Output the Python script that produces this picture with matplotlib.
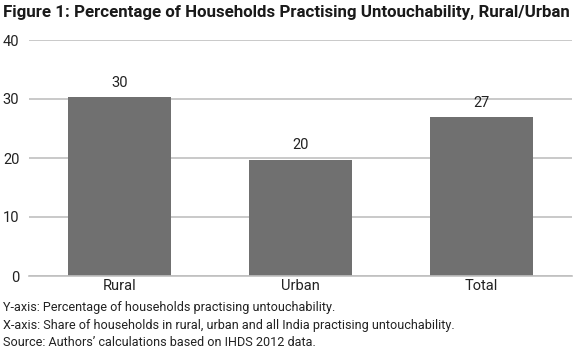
import matplotlib.pyplot as plt

categories = ["Rural", "Urban", "Total"]
values = [30.3, 19.7, 26.9]
value_labels = ["30", "20", "27"]
y_ticks = [0, 10, 20, 30, 40]

title = "Figure 1: Percentage of Households Practising Untouchability, Rural/Urban"
notes = [
    "Y-axis: Percentage of households practising untouchability.",
    "X-axis: Share of households in rural, urban and all India practising untouchability.",
    "Source: Authors\u2019 calculations based on IHDS 2012 data.",
]

plt.rcParams["font.family"] = ["Roboto", "DejaVu Sans"]

W, H = 578, 354
fig = plt.figure(figsize=(W / 100, H / 100), dpi=100)
ax = fig.add_axes([29 / W, (H - 276) / H, (572 - 29) / W, (276 - 40) / H])

x = range(len(categories))
bars = ax.bar(x, values, width=0.57, color="#707070", zorder=2)
for b, lab in zip(bars, value_labels):
    ax.text(b.get_x() + b.get_width() / 2, b.get_height() + 1.3, lab,
            ha="center", va="bottom", fontsize=10.5, color="#222222")

ax.set_xlim(-0.5, 2.5)
ax.set_ylim(0, 40)
ax.set_yticks(y_ticks)
ax.set_xticks(list(x))
ax.set_xticklabels(categories)
ax.yaxis.grid(True, color="#c0c0c0", linewidth=1.2, zorder=0)
ax.tick_params(axis="both", length=0, labelsize=10.5, colors="#222222")
ax.tick_params(axis="y", pad=7)
ax.tick_params(axis="x", pad=2)
for s in ["top", "right", "left"]:
    ax.spines[s].set_visible(False)
ax.spines["bottom"].set_color("#c0c0c0")
ax.spines["bottom"].set_linewidth(1.2)


def fit(t, width_px):
    # scale a text's size so that it spans the given pixel width
    r = fig.canvas.get_renderer()
    w = t.get_window_extent(r).width
    size = t.get_fontsize() * width_px / w
    t.set_fontsize(size)
    return size


t = fig.text(3 / W, 1 - 12 / H, title, fontsize=14, fontweight="bold",
             va="center", ha="left", color="#1a1a1a")
fit(t, 571)
note_texts = [fig.text(3 / W, 1 - (307 + 18 * i) / H, n, fontsize=10,
                       va="center", ha="left", color="#222222")
              for i, n in enumerate(notes)]
size = fit(note_texts[1], 448)
for tn in note_texts:
    tn.set_fontsize(size)

fig.savefig("out.png", dpi=100)
